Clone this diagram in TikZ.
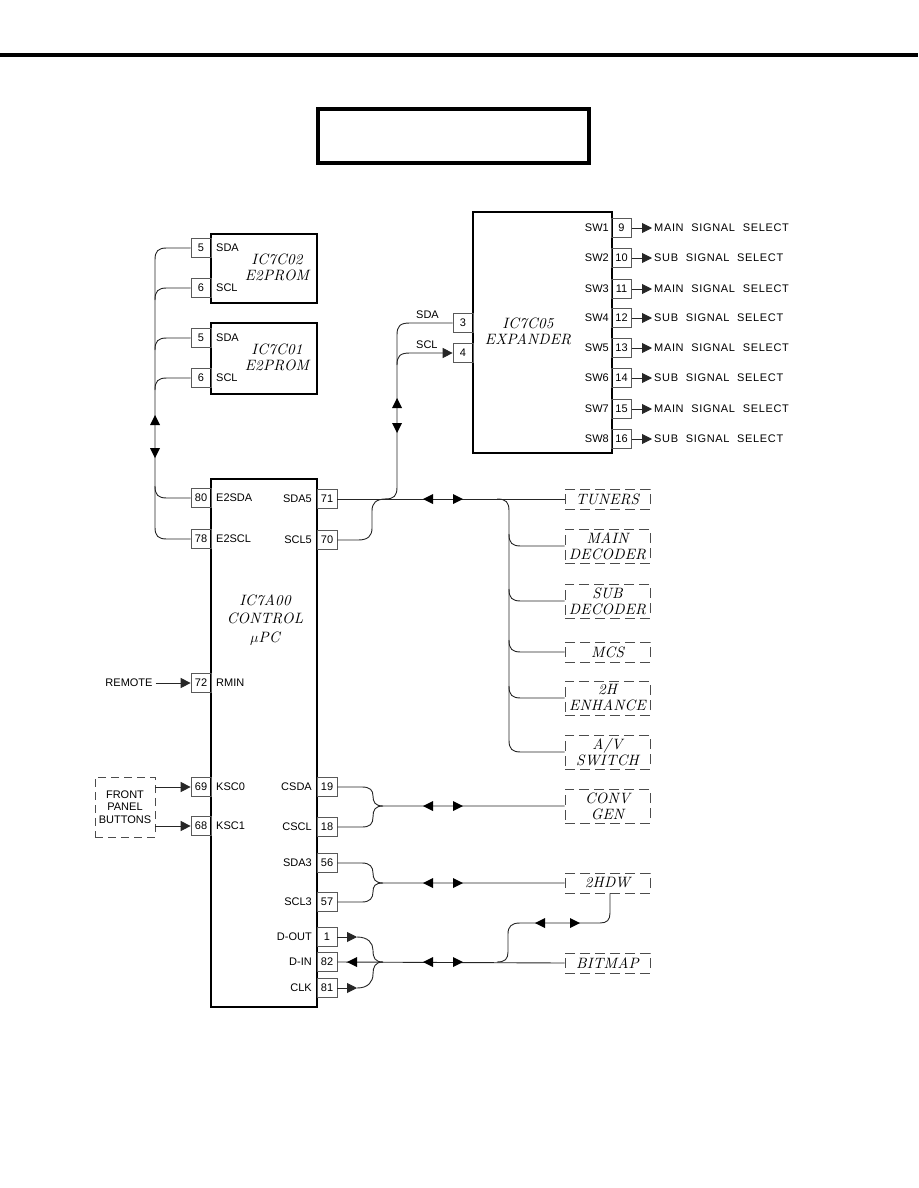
\documentclass[tikz,border=0pt]{standalone}
\usepackage{fontspec}
\usetikzlibrary{arrows.meta}
\newfontfamily\pinfont{Liberation Sans}
\newfontfamily\outfont{Liberation Sans}[LetterSpace=6]
\newfontfamily\icfont{lmroman10-italic.otf}[LetterSpace=1]
\tikzset{
  ic/.style={draw, line width=1.3pt, inner sep=0pt},
  pin/.style={draw=black!65, line width=0.7pt, minimum width=20pt, minimum height=19pt, inner sep=0pt, font=\pinfont\fontsize{11}{11}\selectfont},
  plab/.style={inner sep=0pt, font=\pinfont\fontsize{11}{11}\selectfont},
  olab/.style={inner sep=2pt, font=\outfont\fontsize{11}{11}\selectfont},
  ext/.style={draw=black!70, dash pattern=on 10pt off 5pt, line width=0.7pt, minimum width=85pt, inner sep=0pt, align=center, font=\icfont\fontsize{15}{16}\selectfont},
  ictext/.style={inner sep=0pt, align=center, font=\icfont\fontsize{15}{16}\selectfont},
  wire/.style={line width=0.9pt, black!85},
  tip/.style={-{Triangle[length=10pt,width=10pt]}},
  triR/.pic={\fill (0,0) -- (-10,-5) -- (-10,5) -- cycle;},
  triL/.pic={\fill (0,0) -- (10,-5) -- (10,5) -- cycle;},
  triU/.pic={\fill (0,0) -- (-5,10) -- (5,10) -- cycle;},
  triD/.pic={\fill (0,0) -- (-5,-10) -- (5,-10) -- cycle;}
}
\begin{document}
\begin{tikzpicture}[x=1pt, y=-1pt]
\useasboundingbox (0,0) rectangle (918,1188);
\fill[white] (0,0) rectangle (918,1188);
% header
\draw[line width=3.5pt] (0,55) -- (918,55);
\node[draw, line width=4pt, minimum width=271pt, minimum height=54pt, inner sep=0pt] (title) at (453.5,136) {};

% EEPROMs
\node[ic, minimum width=106pt, minimum height=69pt] (c2) at (264,268.5) {};
\node[ictext] (c2t) at (277,267) {IC7C02\\E2PROM};
\node[pin] (c2p5) at (201,248) {5};
\node[pin] (c2p6) at (201,288) {6};
\node[plab, anchor=west] (c2l5) at (216,248) {SDA};
\node[plab, anchor=west] (c2l6) at (216,288) {SCL};

\node[ic, minimum width=106pt, minimum height=71pt] (c1) at (264,358.5) {};
\node[ictext] (c1t) at (277,357) {IC7C01\\E2PROM};
\node[pin] (c1p5) at (201,338) {5};
\node[pin] (c1p6) at (201,378) {6};
\node[plab, anchor=west] (c1l5) at (216,338) {SDA};
\node[plab, anchor=west] (c1l6) at (216,378) {SCL};

% Expander
\node[ic, minimum width=139pt, minimum height=241pt] (ex) at (542.5,332.5) {};
\node[ictext] (ext) at (528,331) {IC7C05\\EXPANDER};
\node[pin] (p3) at (463,323) {3};
\node[pin] (p4) at (463,353) {4};
\node[plab, anchor=south west] (lsda) at (416,319) {SDA};
\node[plab, anchor=south west] (lscl) at (416,349) {SCL};
\foreach \n/\y/\s/\t in {9/228/1/MAIN,10/258/2/SUB,11/289/3/MAIN,12/318/4/SUB,13/348/5/MAIN,14/378/6/SUB,15/409/7/MAIN,16/439/8/SUB}{
  \node[pin] (p\n) at (621.5,\y) {\n};
  \node[plab, anchor=east] (sw\s) at (609,\y) {SW\s};
  \node[olab, anchor=west] (o\n) at (652,\y) {\t\hspace{4pt} SIGNAL\hspace{4pt} SELECT};
  \draw[wire, tip] (p\n.east) -- (o\n.west);
}

% Control
\node[ic, minimum width=106pt, minimum height=528pt] (ctl) at (264,743) {};
\node[ictext, font=\icfont\fontsize{15}{18.5}\selectfont] (ctlt) at (265,620) {IC7A00\\CONTROL\\$\mu$PC};
\foreach \n/\y/\l in {80/498/E2SDA,78/539/E2SCL,72/683/RMIN,69/787/KSC0,68/826/KSC1}{
  \node[pin] (p\n) at (201,\y) {\n};
  \node[plab, anchor=west] (l\n) at (216,\y) {\l};
}
\foreach \n/\y/\l in {71/499/SDA5,70/540/SCL5,19/787/CSDA,18/827/CSCL,56/863/SDA3,57/902/SCL3,1/937/D-OUT,82/962/D-IN,81/988/CLK}{
  \node[pin] (p\n) at (327,\y) {\n};
  \node[plab, anchor=east] (l\n) at (312,\y) {\l};
}

% inputs
\node[plab] (remote) at (129,683) {REMOTE};
\draw[wire, tip, shorten <=3pt] (remote.east) -- (p72.west);
\node[draw=black!70, dash pattern=on 8pt off 5pt, line width=0.7pt, minimum width=60pt, minimum height=60pt, inner sep=0pt, align=center, font=\pinfont\fontsize{11}{12.5}\selectfont] (fp) at (125,807) {FRONT\\PANEL\\BUTTONS};
\draw[wire, tip] (fp.east |- p69.west) -- (p69.west);
\draw[wire, tip] (fp.east |- p68.west) -- (p68.west);

% external blocks
\node[ext, minimum height=20pt] (tun) at (607.5,499) {TUNERS};
\node[ext, minimum height=34pt] (mdec) at (607.5,546) {MAIN\\DECODER};
\node[ext, minimum height=34pt] (sdec) at (607.5,601) {SUB\\DECODER};
\node[ext, minimum height=20pt] (mcs) at (607.5,652) {MCS};
\node[ext, minimum height=34pt] (enh) at (607.5,698) {2H\\ENHANCE};
\node[ext, minimum height=34pt] (avs) at (607.5,752) {A/V\\SWITCH};
\node[ext, minimum height=34pt] (conv) at (607.5,806) {CONV\\GEN};
\node[ext, minimum height=20pt] (hdw) at (607.5,883) {2HDW};
\node[ext, minimum height=20pt] (bmp) at (607.5,963) {BITMAP};

% EEPROM bus
\draw[wire] (c2p5.west) -- (167,248) .. controls (158,248) and (155,251) .. (155,260) -- (155,527) .. controls (155,536) and (158,539) .. (167,539) -- (p78.west);
\draw[wire] (c2p6.west) -- (167,288) .. controls (158,288) and (155,291) .. (155,300);
\draw[wire] (c1p5.west) -- (167,338) .. controls (158,338) and (155,341) .. (155,350);
\draw[wire] (c1p6.west) -- (167,378) .. controls (158,378) and (155,381) .. (155,390);
\draw[wire] (155,486) .. controls (155,495) and (158,498) .. (167,498) -- (p80.west);
\pic at (155,415) {triU};
\pic at (155,458) {triD};

% expander bus
\draw[wire] (p3.west) -- (410,323) .. controls (400,323) and (397,326) .. (397,335) -- (397,487) .. controls (397,496) and (394,499) .. (385,499);
\draw[wire, tip] (397,365) .. controls (397,356) and (400,353) .. (410,353) -- (p4.west);
\pic at (397,398) {triU};
\pic at (397,433) {triD};

% main bus
\draw[wire] (p71.east) -- (tun.west);
\draw[wire] (p70.east) -- (358,540) .. controls (368,540) and (372,536) .. (372,528) -- (372,511) .. controls (372,503) and (376,499) .. (386,499);
\pic at (423,499) {triL};
\pic at (463,499) {triR};
\draw[wire] (497,499) .. controls (506,499) and (509,502) .. (509,511) -- (509,740) .. controls (509,749) and (512,752) .. (521,752) -- (avs.west);
\foreach \b/\y in {mdec/546,sdec/601,mcs/652,enh/698}{
  \draw[wire] (509,\y-12) .. controls (509,\y-3) and (512,\y) .. (521,\y) -- (\b.west);
}

% CONV GEN bus
\draw[wire] (p19.east) -- (362,787) .. controls (370,787) and (373,790) .. (373,796) .. controls (373,802) and (375,806) .. (383,806) -- (conv.west);
\draw[wire] (p18.east) -- (362,827) .. controls (370,827) and (373,824) .. (373,817) .. controls (373,810) and (375,806) .. (383,806);
\pic at (423,806) {triL};
\pic at (463,806) {triR};

% 2HDW bus
\draw[wire] (p56.east) -- (362,863) .. controls (370,863) and (373,867) .. (373,873) .. controls (373,879) and (375,883) .. (383,883) -- (hdw.west);
\draw[wire] (p57.east) -- (362,902) .. controls (370,902) and (373,898) .. (373,892) .. controls (373,886) and (375,883) .. (383,883);
\pic at (423,883) {triL};
\pic at (463,883) {triR};

% BITMAP bus
\draw[wire] (p82.east) -- (bmp.west);
\pic at (347,962) {triL};
\draw[wire, tip] (p1.east) -- (357,937);
\draw[wire] (357,937) .. controls (368,937) and (373,943) .. (373,950) .. controls (373,958) and (375,962) .. (383,962);
\draw[wire, tip] (p81.east) -- (357,988);
\draw[wire] (357,988) .. controls (368,988) and (373,982) .. (373,974) .. controls (373,967) and (375,962) .. (383,962);
\pic at (423,962) {triL};
\pic at (463,962) {triR};

% 2HDW - BITMAP link
\draw[wire] (hdw.south -| 610,0) -- (610,913) .. controls (610,920) and (607,923) .. (600,923) -- (520,923) .. controls (512,923) and (508,926) .. (508,934) -- (508,952) .. controls (508,959) and (505,962) .. (497,962);
\pic at (535,923) {triL};
\pic at (580,923) {triR};
\end{tikzpicture}
\end{document}
